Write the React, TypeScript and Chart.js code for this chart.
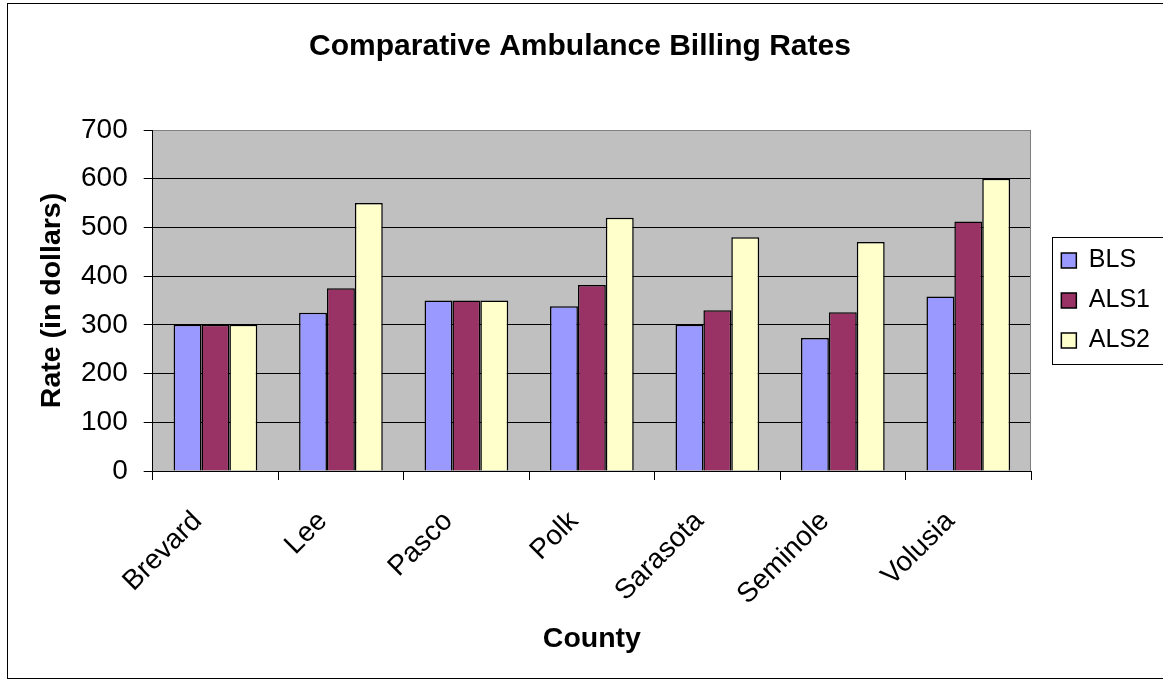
import React, { useEffect, useRef } from "react";
import { Chart, registerables } from "chart.js";

Chart.register(...registerables);

const counties = ["Brevard", "Lee", "Pasco", "Polk", "Sarasota", "Seminole", "Volusia"];
const blsValues = [300, 325, 350, 338, 300, 273, 358];
const als1Values = [300, 375, 350, 382, 330, 326, 512];
const als2Values = [300, 550, 350, 520, 480, 470, 600];
const seriesNames = ["BLS", "ALS1", "ALS2"];
const seriesColors = ["#9999FF", "#993366", "#FFFFCC"];
const yMin = 0;
const yMax = 700;
const yStep = 100;

const FONT = "'Liberation Sans', Arial, Helvetica, sans-serif";

const framePlugin = {
  id: "excelFrame",
  beforeDraw(chart: any) {
    const { ctx, chartArea: a } = chart;
    ctx.save();
    ctx.fillStyle = "#FFFFFF";
    ctx.fillRect(0, 0, chart.width, chart.height);
    ctx.fillStyle = "#C0C0C0";
    ctx.fillRect(a.left, a.top, a.right - a.left, a.bottom - a.top);
    ctx.restore();
  },
  beforeDatasetsDraw(chart: any) {
    const { ctx, chartArea: a } = chart;
    ctx.save();
    ctx.strokeStyle = "#808080";
    ctx.lineWidth = 1;
    ctx.beginPath();
    const x = Math.round(a.right) - 0.5;
    ctx.moveTo(x, Math.round(a.top));
    ctx.lineTo(x, Math.round(a.bottom));
    ctx.stroke();
    ctx.restore();
  },
  afterDraw(chart: any) {
    const { ctx } = chart;
    ctx.save();
    ctx.strokeStyle = "#000000";
    ctx.lineWidth = 1;
    ctx.strokeRect(7.5, 3.5, 1170, 675);
    const hb = chart.legend && chart.legend.legendHitBoxes;
    if (hb && hb.length) {
      const top = Math.round(hb[0].top - 11) + 0.5;
      const bottom = Math.round(hb[hb.length - 1].top + hb[hb.length - 1].height + 11) + 0.5;
      const left = Math.round(hb[0].left - 9) + 0.5;
      ctx.strokeRect(left, top, 1200 - left, bottom - top);
    }
    ctx.restore();
  },
};

export default function App() {
  const canvasRef = useRef<HTMLCanvasElement | null>(null);

  useEffect(() => {
    document.body.style.margin = "0";
    const canvas = canvasRef.current;
    if (!canvas) return;
    const data = {
      labels: counties,
      datasets: [blsValues, als1Values, als2Values].map((vals, i) => ({
        label: seriesNames[i],
        data: vals,
        backgroundColor: seriesColors[i],
        borderColor: "#000000",
        borderWidth: 1.5,
        categoryPercentage: 0.667,
        barPercentage: 1.0,
      })),
    };
    const chart = new Chart(canvas, {
      type: "bar",
      data,
      plugins: [framePlugin],
      options: {
        animation: false,
        responsive: false,
        devicePixelRatio: 1,
        layout: { padding: { left: 0, right: 3, top: 0, bottom: 0 } },
        plugins: {
          title: {
            display: true,
            text: "Comparative Ambulance Billing Rates",
            color: "#000000",
            font: { family: FONT, size: 30, weight: "bold" },
            padding: { top: 29, bottom: 65 },
          },
          legend: {
            position: "right",
            fullSize: false,
            labels: {
              color: "#000000",
              font: { family: FONT, size: 25 },
              boxWidth: 15,
              boxHeight: 15,
              padding: 15,
            },
          },
          tooltip: { enabled: false },
        },
        scales: {
          x: {
            offset: true,
            grid: {
              display: true,
              drawOnChartArea: false,
              drawTicks: true,
              tickLength: 9,
              tickColor: "#000000",
              offset: true,
            },
            border: { display: true, color: "#000000", width: 1 },
            ticks: {
              color: "#000000",
              font: { family: FONT, size: 28 },
              minRotation: 45,
              maxRotation: 45,
              autoSkip: false,
              padding: 25,
              labelOffset: -18,
            },
            title: {
              display: true,
              text: "County",
              color: "#000000",
              font: { family: FONT, size: 28.5, weight: "bold" },
              padding: { top: 0, bottom: 25 },
            },
            afterFit: (s: any) => {
              s.height = 210;
            },
          },
          y: {
            min: yMin,
            max: yMax,
            ticks: {
              stepSize: yStep,
              color: "#000000",
              font: { family: FONT, size: 28 },
              padding: 16,
            },
            grid: {
              color: (c: any) => (c.tick && c.tick.value === yMax ? "#808080" : "#000000"),
              tickColor: "#000000",
              tickLength: 9,
              lineWidth: 1,
            },
            border: { display: true, color: "#000000", width: 1 },
            title: {
              display: true,
              text: "Rate (in dollars)",
              color: "#000000",
              font: { family: FONT, size: 28.5, weight: "bold" },
              padding: { top: 34.6, bottom: 0 },
            },
            afterFit: (s: any) => {
              s.width = 152.7;
            },
          },
          y2: {
            position: "right",
            display: true,
            grid: { display: false },
            ticks: { display: false },
            border: { display: false },
            title: { display: false },
            afterFit: (s: any) => {
              s.width = 15.3;
            },
          },
        },
      } as any,
    });
    return () => chart.destroy();
  }, []);

  return (
    <div style={{ width: 1163, height: 681, position: "relative" }}>
      <canvas ref={canvasRef} width={1163} height={681} style={{ width: 1163, height: 681, display: "block" }} />
    </div>
  );
}
